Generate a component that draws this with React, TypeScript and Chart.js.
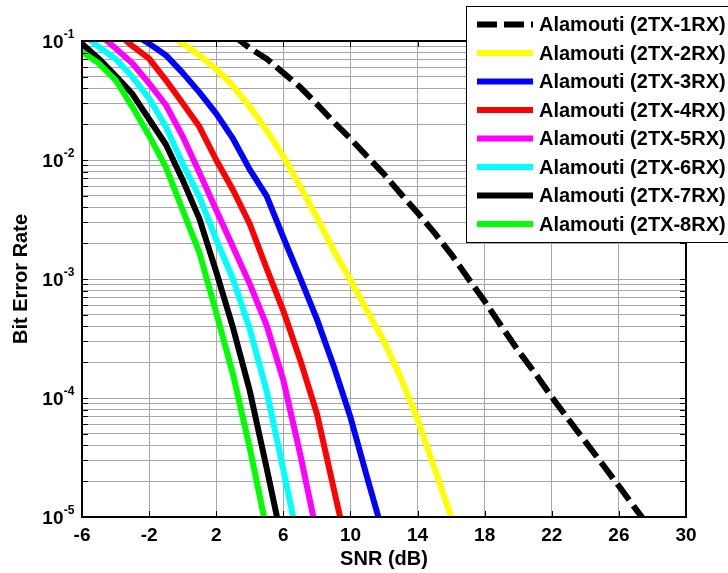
import React, { useEffect, useRef } from "react";
import { Chart, registerables } from "chart.js";

Chart.register(...registerables);

const FONT = '"Liberation Sans", Arial, Helvetica, sans-serif';

// ---- axis ticks ----
const X_TICKS = [-6, -2, 2, 6, 10, 14, 18, 22, 26, 30];
const Y_DECADES = [1e-5, 1e-4, 1e-3, 1e-2, 1e-1];
const Y_DECADE_EXPONENTS = ["-5", "-4", "-3", "-2", "-1"];
const Y_MINOR_MANTISSAS = [1, 2, 3, 4, 5, 6, 7, 8, 9];

// ---- series ----
const SERIES_LABELS = [
  "Alamouti (2TX-1RX)",
  "Alamouti (2TX-2RX)",
  "Alamouti (2TX-3RX)",
  "Alamouti (2TX-4RX)",
  "Alamouti (2TX-5RX)",
  "Alamouti (2TX-6RX)",
  "Alamouti (2TX-7RX)",
  "Alamouti (2TX-8RX)",
];
const SERIES_COLORS = ["#000000", "#ffff00", "#0000ff", "#ff0000", "#ff00ff", "#00ffff", "#000000", "#00ff00"];

const SNR_1RX = [3, 4, 5, 6, 7, 8, 9, 10, 11, 12, 13, 14, 15, 16, 17, 18, 19, 20, 21, 22, 23, 24, 25, 26, 27, 28];
const BER_1RX = [0.112, 0.087, 0.071, 0.054, 0.041, 0.0295, 0.0209, 0.0151, 0.0107, 0.0076, 0.0052, 0.0036, 0.00245, 0.00162, 0.00102, 6.5e-4, 4.0e-4, 2.5e-4, 1.62e-4, 1.02e-4, 6.6e-5, 4.3e-5, 2.8e-5, 1.82e-5, 1.17e-5, 7.6e-6];

const SNR_2RX = [-1, 0, 1, 2, 3, 4, 5, 6, 7, 8, 9, 10, 11, 12, 13, 14, 15, 16, 17];
const BER_2RX = [0.117, 0.095, 0.076, 0.058, 0.042, 0.028, 0.0178, 0.0107, 0.006, 0.0033, 0.00174, 9.8e-4, 5.4e-4, 3.0e-4, 1.48e-4, 6.6e-5, 2.6e-5, 1.0e-5, 3.9e-6];

const SNR_3RX = [-3, -2, -1, 0, 1, 2, 3, 4, 5, 6, 7, 8, 9, 10, 11, 12];
const BER_3RX = [0.117, 0.095, 0.076, 0.054, 0.037, 0.0245, 0.0151, 0.0083, 0.005, 0.00224, 0.00102, 4.6e-4, 1.86e-4, 6.9e-5, 2.14e-5, 6.8e-6];

const SNR_4RX = [-4, -3, -2, -1, 0, 1, 2, 3, 4, 5, 6, 7, 8, 9, 10];
const BER_4RX = [0.12, 0.091, 0.071, 0.047, 0.03, 0.019, 0.01, 0.0056, 0.0029, 0.00123, 5.4e-4, 2.1e-4, 7.4e-5, 1.74e-5, 4.1e-6];

const SNR_5RX = [-5, -4, -3, -2, -1, 0, 1, 2, 3, 4, 5, 6, 7, 8];
const BER_5RX = [0.115, 0.087, 0.065, 0.044, 0.029, 0.0158, 0.0078, 0.0038, 0.00186, 9.1e-4, 4.1e-4, 1.41e-4, 3.4e-5, 7.2e-6];

const SNR_6RX = [-6, -5, -4, -3, -2, -1, 0, 1, 2, 3, 4, 5, 6, 7];
const BER_6RX = [0.117, 0.089, 0.071, 0.05, 0.033, 0.019, 0.0093, 0.0049, 0.00214, 0.001, 3.8e-4, 1.15e-4, 2.5e-5, 5.2e-6];

const SNR_7RX = [-6, -5, -4, -3, -2, -1, 0, 1, 2, 3, 4, 5, 6];
const BER_7RX = [0.095, 0.071, 0.051, 0.036, 0.022, 0.0135, 0.0068, 0.0032, 0.00115, 3.9e-4, 1.15e-4, 2.6e-5, 5.6e-6];

const SNR_8RX = [-6, -5, -4, -3, -2, -1, 0, 1, 2, 3, 4, 5];
const BER_8RX = [0.081, 0.065, 0.047, 0.028, 0.016, 0.0087, 0.0038, 0.00166, 5.2e-4, 1.58e-4, 3.8e-5, 7.9e-6];

const SERIES_SNR = [SNR_1RX, SNR_2RX, SNR_3RX, SNR_4RX, SNR_5RX, SNR_6RX, SNR_7RX, SNR_8RX];
const SERIES_BER = [BER_1RX, BER_2RX, BER_3RX, BER_4RX, BER_5RX, BER_6RX, BER_7RX, BER_8RX];
const SERIES_DASH = [[20, 7], [], [], [], [], [], [], []];

// ---- plugins ----
const framePlugin = {
  id: "matlabFrame",
  afterDatasetsDraw(chart: any) {
    const { ctx, chartArea, scales } = chart;
    const { left, right, top, bottom } = chartArea;
    ctx.save();
    ctx.strokeStyle = "#000";
    ctx.lineWidth = 1;
    ctx.beginPath();
    X_TICKS.forEach((v) => {
      const px = Math.round(scales.x.getPixelForValue(v)) + 0.5;
      ctx.moveTo(px, bottom);
      ctx.lineTo(px, bottom - 6);
      ctx.moveTo(px, top);
      ctx.lineTo(px, top + 6);
    });
    scales.y.ticks.forEach((t: any) => {
      const py = Math.round(scales.y.getPixelForValue(t.value)) + 0.5;
      ctx.moveTo(left, py);
      ctx.lineTo(left + 6, py);
      ctx.moveTo(right, py);
      ctx.lineTo(right - 6, py);
    });
    ctx.stroke();
    ctx.lineWidth = 2;
    ctx.strokeRect(left, top, right - left, bottom - top);
    ctx.restore();
  },
};

const yLabelPlugin = {
  id: "yDecadeLabels",
  afterDraw(chart: any) {
    const { ctx, chartArea, scales } = chart;
    const xr = chartArea.left - 18.5;
    ctx.save();
    ctx.fillStyle = "#000";
    Y_DECADES.forEach((v, i) => {
      const py = scales.y.getPixelForValue(v);
      ctx.font = `bold 19px ${FONT}`;
      ctx.textAlign = "right";
      ctx.textBaseline = "alphabetic";
      ctx.fillText("10", xr, py + 6.7);
      ctx.font = `bold 12px ${FONT}`;
      ctx.textAlign = "left";
      ctx.fillText(Y_DECADE_EXPONENTS[i], xr + 0.3, py - 3.3);
    });
    ctx.restore();
  },
};

const legendPlugin = {
  id: "boxLegend",
  afterDraw(chart: any) {
    const { ctx } = chart;
    const boxLeft = 466.5;
    const boxTop = 6.5;
    const boxBottom = 242.5;
    ctx.save();
    ctx.fillStyle = "#fff";
    ctx.fillRect(boxLeft, boxTop, 300, boxBottom - boxTop);
    ctx.strokeStyle = "#000";
    ctx.lineWidth = 1;
    ctx.strokeRect(boxLeft, boxTop, 300, boxBottom - boxTop);
    chart.data.datasets.forEach((ds: any, i: number) => {
      const rowY = 25.5 + i * 28.5;
      ctx.beginPath();
      ctx.setLineDash(ds.borderDash || []);
      ctx.lineCap = "butt";
      ctx.strokeStyle = ds.borderColor;
      ctx.lineWidth = 6;
      ctx.moveTo(477, rowY - 1);
      ctx.lineTo(533, rowY - 1);
      ctx.stroke();
      ctx.setLineDash([]);
      ctx.fillStyle = "#000";
      ctx.font = `bold 20px ${FONT}`;
      ctx.textAlign = "left";
      ctx.textBaseline = "middle";
      ctx.fillText(ds.label, 539, rowY);
    });
    ctx.restore();
  },
};

export default function App() {
  const canvasRef = useRef<HTMLCanvasElement | null>(null);

  useEffect(() => {
    if (!canvasRef.current) return;
    Chart.defaults.font.family = FONT;

    const datasets = SERIES_LABELS.map((label, i) => ({
      label,
      data: SERIES_SNR[i].map((x, k) => ({ x, y: SERIES_BER[i][k] })),
      borderColor: SERIES_COLORS[i],
      backgroundColor: SERIES_COLORS[i],
      borderWidth: 6,
      borderDash: SERIES_DASH[i],
      borderCapStyle: "butt",
      borderJoinStyle: "round",
      pointRadius: 0,
      pointHoverRadius: 0,
      tension: 0,
      fill: false,
      clip: 0,
      order: -i,
    }));

    const chart = new Chart(canvasRef.current, {
      type: "line",
      data: { datasets } as any,
      options: {
        animation: false,
        responsive: false,
        devicePixelRatio: 1,
        layout: { padding: { top: 41, right: 42, left: 0, bottom: 0 } },
        plugins: { legend: { display: false }, tooltip: { enabled: false } },
        events: [],
        scales: {
          x: {
            type: "linear",
            min: -6,
            max: 30,
            afterBuildTicks: (axis: any) => {
              axis.ticks = X_TICKS.map((value) => ({ value }));
            },
            afterFit: (axis: any) => {
              axis.height = 56;
            },
            ticks: {
              color: "#000",
              font: { size: 19, weight: "bold", family: FONT },
              padding: 7,
              maxRotation: 0,
              autoSkip: false,
            },
            grid: { color: "#a8a8a8", lineWidth: 1, drawTicks: false },
            border: { display: false },
            title: {
              display: true,
              text: "SNR (dB)",
              color: "#000",
              font: { size: 20, weight: "bold", family: FONT },
              padding: { top: 0, bottom: 2 },
            },
          },
          y: {
            type: "logarithmic",
            min: 1e-5,
            max: 1e-1,
            afterBuildTicks: (axis: any) => {
              const ticks: any[] = [];
              Y_DECADES.forEach((d, i) => {
                if (i === Y_DECADES.length - 1) {
                  ticks.push({ value: d });
                } else {
                  Y_MINOR_MANTISSAS.forEach((m) => ticks.push({ value: m * d }));
                }
              });
              axis.ticks = ticks;
            },
            afterFit: (axis: any) => {
              axis.width = 82;
            },
            ticks: { display: false },
            grid: { color: "#a8a8a8", lineWidth: 1, drawTicks: false },
            border: { display: false },
            title: {
              display: true,
              text: "Bit Error Rate",
              color: "#000",
              font: { size: 20, weight: "bold", family: FONT },
              padding: { top: 9, bottom: 0 },
            },
          },
        },
      } as any,
      plugins: [framePlugin, yLabelPlugin, legendPlugin],
    });

    return () => chart.destroy();
  }, []);

  return (
    <div style={{ position: "fixed", left: 0, top: 0, width: 728, height: 573, background: "#fff" }}>
      <canvas ref={canvasRef} width={728} height={573} style={{ width: 728, height: 573, display: "block" }} />
    </div>
  );
}
